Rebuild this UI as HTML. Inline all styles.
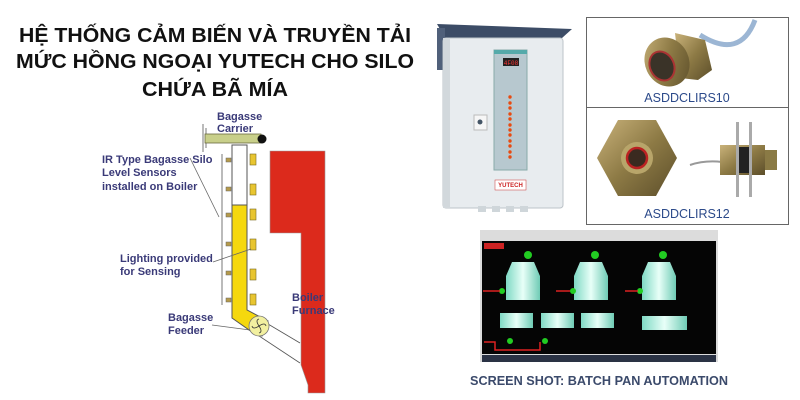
<!DOCTYPE html>
<html><head><meta charset="utf-8"><style>
html,body{margin:0;padding:0;background:#fff;width:800px;height:400px;overflow:hidden}
svg{display:block}
.t{font-family:"Liberation Sans","DejaVu Sans",sans-serif;font-weight:bold;font-size:20px;fill:#111}
.l{font-family:"Liberation Sans",sans-serif;font-weight:bold;font-size:11px;fill:#3a3a78}
.c{font-family:"Liberation Sans",sans-serif;font-size:12.5px;fill:#2c4a8a}
</style></head><body>
<svg width="800" height="400" viewBox="0 0 800 400">
<defs>
<linearGradient id="brass" x1="0" y1="0" x2="1" y2="1"><stop offset="0" stop-color="#c9b27a"/><stop offset="0.5" stop-color="#8d7a45"/><stop offset="1" stop-color="#5c4e2a"/></linearGradient>
<linearGradient id="tank" x1="0" x2="1"><stop offset="0" stop-color="#7fd9c4"/><stop offset="0.5" stop-color="#e8fff8"/><stop offset="1" stop-color="#6fcbb5"/></linearGradient>
</defs>
<!-- title -->
<text class="t" x="215" y="42" text-anchor="middle" textLength="392" lengthAdjust="spacingAndGlyphs">HỆ THỐNG CẢM BIẾN VÀ TRUYỀN TẢI</text>
<text class="t" x="215" y="68" text-anchor="middle" textLength="398" lengthAdjust="spacingAndGlyphs">MỨC HỒNG NGOẠI YUTECH CHO SILO</text>
<text class="t" x="215" y="96" text-anchor="middle" textLength="146" lengthAdjust="spacingAndGlyphs">CHỨA BÃ MÍA</text>

<!-- diagram -->
<polygon points="270,151 325,151 325,393 308,393 308,385 301,365 301,233 270,233" fill="#dc2a1c" stroke="#999" stroke-width="0.6"/>
<line x1="203" y1="124" x2="203" y2="152" stroke="#777" stroke-width="1"/>
<line x1="206" y1="128" x2="206" y2="148" stroke="#777" stroke-width="1"/>
<rect x="205" y="134" width="56" height="9" fill="#c8cf8a" stroke="#6a6a40" stroke-width="0.8"/>
<circle cx="262" cy="139" r="4.5" fill="#111"/>
<rect x="232" y="145" width="15" height="60" fill="#fff" stroke="#555" stroke-width="1"/>
<polygon points="232,205 247,205 247,310 268,321 262,336 252,332 232,318" fill="#f5d80e" stroke="#555" stroke-width="1"/>
<line x1="268" y1="324" x2="300" y2="343" stroke="#555" stroke-width="0.8"/>
<line x1="250" y1="330" x2="300" y2="363" stroke="#555" stroke-width="0.8"/>
<circle cx="259" cy="326" r="10" fill="#f2f0a0" stroke="#777" stroke-width="0.8"/>
<path d="M259 326 q-4 -6 0 -7 M259 326 q6 -4 7 0 M259 326 q4 6 0 7 M259 326 q-6 4 -7 0" stroke="#333" fill="none" stroke-width="0.8"/>
<line x1="222" y1="154" x2="222" y2="305" stroke="#777" stroke-width="1"/>
<g fill="#b59a4a" stroke="#666" stroke-width="0.5">
<rect x="226" y="158" width="5" height="4"/><rect x="226" y="187" width="5" height="4"/><rect x="226" y="213" width="5" height="4"/><rect x="226" y="242" width="5" height="4"/><rect x="226" y="271" width="5" height="4"/><rect x="226" y="298" width="5" height="4"/>
</g>
<g fill="#e8c530" stroke="#7a6a20" stroke-width="0.6">
<rect x="250" y="154" width="6" height="11"/><rect x="250" y="184" width="6" height="11"/><rect x="250" y="209" width="6" height="11"/><rect x="250" y="239" width="6" height="11"/><rect x="250" y="269" width="6" height="11"/><rect x="250" y="294" width="6" height="11"/>
</g>
<line x1="190" y1="158" x2="219" y2="217" stroke="#666" stroke-width="0.8"/>
<line x1="213" y1="262" x2="251" y2="249" stroke="#666" stroke-width="0.8"/>
<line x1="212" y1="325" x2="250" y2="330" stroke="#666" stroke-width="0.8"/>
<text class="l" x="217" y="120">Bagasse</text>
<text class="l" x="217" y="132">Carrier</text>
<text class="l" x="102" y="163">IR Type Bagasse Silo</text>
<text class="l" x="102" y="176">Level Sensors</text>
<text class="l" x="102" y="190">installed on Boiler</text>
<text class="l" x="120" y="262">Lighting provided</text>
<text class="l" x="120" y="275">for Sensing</text>
<text class="l" x="168" y="321">Bagasse</text>
<text class="l" x="168" y="334">Feeder</text>
<text class="l" x="292" y="301">Boiler</text>
<text class="l" x="292" y="314">Furnace</text>

<!-- cabinet -->
<polygon points="437,24 572,29 562,38 445,38" fill="#3c4c66"/>
<rect x="437" y="28" width="8" height="42" fill="#50607a"/>
<rect x="443" y="38" width="120" height="170" rx="3" fill="#e8ecef" stroke="#bcc3c8"/>
<rect x="443" y="38" width="7" height="170" fill="#d2d8dc"/>
<rect x="494" y="50" width="33" height="120" fill="#b7c8cf" stroke="#8aa"/>
<rect x="494" y="50" width="33" height="4" fill="#5aa"/>
<rect x="503" y="58" width="16" height="8" fill="#222"/><text x="511" y="65" font-size="6" fill="#f33" text-anchor="middle" font-family="Liberation Mono">4F08</text>
<g fill="#e84a10"><circle cx="510" cy="97" r="1.7"/><circle cx="510" cy="103" r="1.7"/><circle cx="510" cy="108" r="1.7"/><circle cx="510" cy="114" r="1.7"/><circle cx="510" cy="119" r="1.7"/><circle cx="510" cy="125" r="1.7"/><circle cx="510" cy="130" r="1.7"/><circle cx="510" cy="135" r="1.7"/><circle cx="510" cy="141" r="1.7"/><circle cx="510" cy="146" r="1.7"/><circle cx="510" cy="152" r="1.7"/><circle cx="510" cy="157" r="1.7"/></g>
<rect x="474" y="115" width="13" height="15" fill="#f6f6f6" stroke="#bbb"/>
<circle cx="480" cy="122" r="2.5" fill="#456"/>
<rect x="495" y="180" width="31" height="10" fill="#fff" stroke="#c33" stroke-width="0.5"/><text x="510.5" y="187" font-size="6" font-weight="bold" fill="#c22" text-anchor="middle" font-family="Liberation Sans">YUTECH</text>
<g fill="#cfd6da"><rect x="478" y="206" width="8" height="6"/><rect x="492" y="206" width="8" height="6"/><rect x="506" y="206" width="8" height="6"/><rect x="520" y="206" width="8" height="6"/></g>

<!-- sensors box -->
<rect x="586.5" y="17.5" width="202" height="207" fill="#fff" stroke="#666"/>
<line x1="586" y1="107.5" x2="789" y2="107.5" stroke="#666"/>
<path d="M700 35 Q740 60 755 20" stroke="#9cb6d4" stroke-width="5" fill="none"/>
<polygon points="675,33 705,40 712,70 698,80 680,78" fill="url(#brass)"/>
<ellipse cx="667" cy="62" rx="22" ry="25" fill="url(#brass)" transform="rotate(-25 667 62)"/>
<ellipse cx="662" cy="66" rx="12" ry="15" fill="#3a3328" stroke="#a33" stroke-width="2" transform="rotate(-25 662 66)"/>
<text class="c" x="687" y="102" text-anchor="middle">ASDDCLIRS10</text>
<polygon points="618,120 656,120 677,158 656,196 618,196 597,158" fill="url(#brass)"/>
<circle cx="637" cy="158" r="16" fill="#b8a56a"/>
<circle cx="637" cy="158" r="10" fill="#3a2a20" stroke="#b22" stroke-width="2.5"/>
<path d="M690 165 Q705 160 722 162" stroke="#999" stroke-width="2" fill="none"/>
<rect x="720" y="145" width="45" height="30" fill="url(#brass)"/>
<rect x="737" y="147" width="13" height="26" fill="#222"/>
<rect x="736" y="122" width="3" height="75" fill="#aaa"/><rect x="749" y="122" width="3" height="75" fill="#aaa"/>
<rect x="765" y="150" width="12" height="20" fill="#8a7a45"/>
<text class="c" x="687" y="218" text-anchor="middle">ASDDCLIRS12</text>

<!-- screenshot -->
<rect x="480" y="230" width="238" height="132" fill="#dcdcdc"/>
<rect x="482" y="241" width="234" height="113" fill="#050505"/>
<rect x="484" y="243" width="20" height="6" fill="#c22"/>
<g fill="url(#tank)">
<polygon points="512,262 534,262 540,276 540,300 506,300 506,276"/>
<polygon points="580,262 602,262 608,276 608,300 574,300 574,276"/>
<polygon points="648,262 670,262 676,276 676,300 642,300 642,276"/>
<rect x="500" y="313" width="33" height="15"/><rect x="541" y="313" width="33" height="15"/><rect x="581" y="313" width="33" height="15"/><rect x="642" y="316" width="45" height="14"/>
</g>
<g fill="#2c2"><circle cx="528" cy="255" r="4"/><circle cx="595" cy="255" r="4"/><circle cx="663" cy="255" r="4"/><circle cx="502" cy="291" r="3"/><circle cx="573" cy="291" r="3"/><circle cx="640" cy="291" r="3"/><circle cx="510" cy="341" r="3"/><circle cx="545" cy="341" r="3"/></g>
<g stroke="#d22" stroke-width="1.5"><line x1="483" y1="291" x2="500" y2="291"/><line x1="556" y1="291" x2="570" y2="291"/><line x1="625" y1="291" x2="638" y2="291"/><polyline points="484,342 495,342 495,350 540,350 540,342" fill="none"/></g>
<rect x="482" y="355" width="234" height="7" fill="#2a3244"/>
<text x="599" y="385" text-anchor="middle" font-family="Liberation Sans" font-weight="bold" font-size="13" fill="#3b4a6b" textLength="258" lengthAdjust="spacingAndGlyphs">SCREEN SHOT: BATCH PAN AUTOMATION</text>
</svg>
</body></html>
